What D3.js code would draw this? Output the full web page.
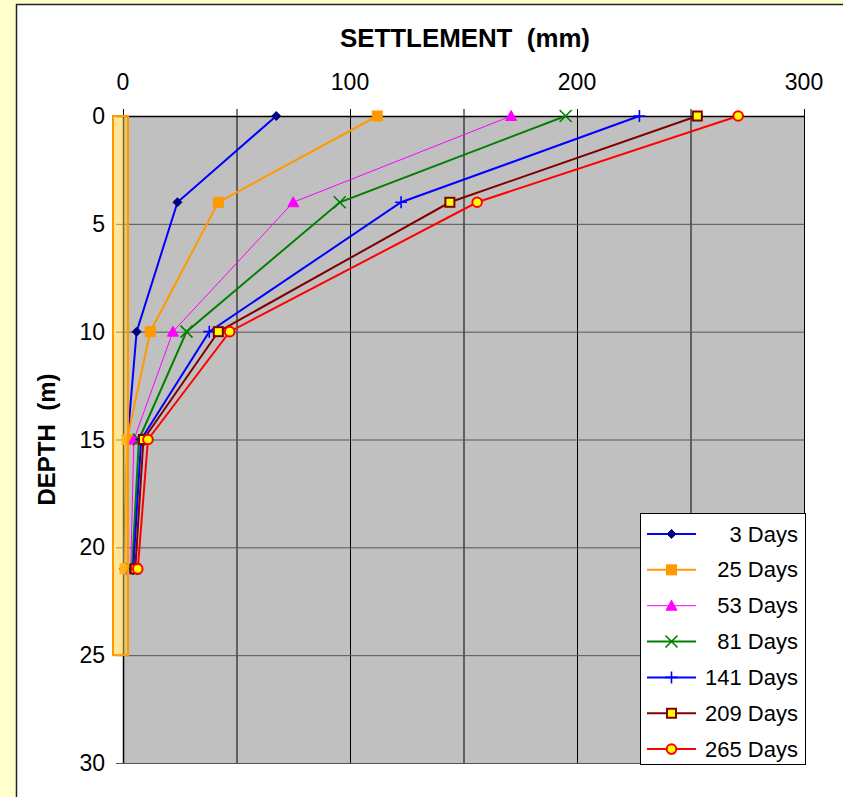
<!DOCTYPE html>
<html><head><meta charset="utf-8">
<script src="https://cdn.jsdelivr.net/npm/d3@7"></script>
<style>
html,body{margin:0;padding:0;background:#FFFFCC;}
svg{display:block;font-family:"Liberation Sans",Arial,sans-serif;}
text{white-space:pre;}
</style></head>
<body>
<svg id="c" width="843" height="797"></svg>
<script>
// ---- data ----
const depths = [0, 4, 10, 15, 21];
const days3   = [67.5, 24, 6, 2, 0.3];
const days25  = [112, 42, 12, 1.8, 0.9];
const days53  = [171, 75, 22, 4.8, 3.4];
const days81  = [195, 95.5, 28, 7, 4];
const days141 = [227.5, 122.5, 38, 8, 4.5];
const days209 = [253, 144, 42, 9, 5.4];
const days265 = [271, 156, 47, 11, 6.5];
const seriesNames = ["3 Days", "25 Days", "53 Days", "81 Days", "141 Days", "209 Days", "265 Days"];
const xTicks = [0, 50, 100, 150, 200, 250, 300];
const xTickLabels = [0, 100, 200, 300];
const yTicks = [0, 5, 10, 15, 20, 25, 30];
const pileX = [-4.4, 2.2];
const pileDepth = [0, 25];

const series = [
  {name: seriesNames[0], vals: days3,   line: "#0000FF", w: 2, marker: "diamond", fill: "#000080", stroke: "#000080"},
  {name: seriesNames[1], vals: days25,  line: "#FF9900", w: 2, marker: "square",  fill: "#FF9900", stroke: "#FF9900"},
  {name: seriesNames[2], vals: days53,  line: "#FF00FF", w: 1, marker: "triangle",fill: "#FF00FF", stroke: "#FF00FF"},
  {name: seriesNames[3], vals: days81,  line: "#008000", w: 2, marker: "x",       fill: "none",    stroke: "#008000"},
  {name: seriesNames[4], vals: days141, line: "#0000FF", w: 2, marker: "plus",    fill: "none",    stroke: "#0000FF"},
  {name: seriesNames[5], vals: days209, line: "#800000", w: 2, marker: "square2", fill: "#FFFF00", stroke: "#800000"},
  {name: seriesNames[6], vals: days265, line: "#FF0000", w: 2, marker: "circle",  fill: "#FFFF00", stroke: "#FF0000"}
];

const svg = d3.select("#c");
// outer white panel
svg.append("rect").attr("x", 16.5).attr("y", 4.5).attr("width", 840).attr("height", 800)
  .attr("fill", "#fff").attr("stroke", "#222").attr("stroke-width", 1.5);

const L = 123, R = 804, T = 116, B = 763;
const x = d3.scaleLinear().domain([0, 300]).range([L, R]);
const y = d3.scaleLinear().domain([0, 30]).range([T, B]);

// plot area
svg.append("rect").attr("x", L).attr("y", T).attr("width", R - L).attr("height", B - T).attr("fill", "#C0C0C0");

// gridlines
svg.append("g").selectAll("line").data(xTicks).join("line")
  .attr("x1", d => x(d) + 0.5).attr("x2", d => x(d) + 0.5)
  .attr("y1", T - 7).attr("y2", B)
  .attr("stroke", "#000").attr("stroke-width", 1);
svg.append("g").selectAll("line").data(yTicks).join("line")
  .attr("x1", L - 7).attr("x2", R)
  .attr("y1", d => y(d) + 0.5).attr("y2", d => y(d) + 0.5)
  .attr("stroke", d => d === 0 ? "#000" : "#555").attr("stroke-width", d => d === 0 ? 1.5 : 1);
// left axis line
svg.append("line").attr("x1", L + 0.5).attr("x2", L + 0.5).attr("y1", T).attr("y2", B)
  .attr("stroke", "#000").attr("stroke-width", 1.5);

// tick labels
svg.append("g").selectAll("text").data(xTickLabels).join("text")
  .attr("x", d => x(d)).attr("y", 90).attr("text-anchor", "middle")
  .attr("font-size", 23).attr("fill", "#000").text(d => d);
svg.append("g").selectAll("text").data(yTicks).join("text")
  .attr("x", 105).attr("y", d => y(d) + 8).attr("text-anchor", "end")
  .attr("font-size", 23).attr("fill", "#000").text(d => d);

// titles
svg.append("text").attr("x", 465).attr("y", 47).attr("text-anchor", "middle")
  .attr("font-size", 26).attr("font-weight", "bold")
  .attr("textLength", 250).attr("lengthAdjust", "spacingAndGlyphs")
  .text("SETTLEMENT  (mm)");
svg.append("text").attr("transform", `translate(55,${(T + B) / 2}) rotate(-90)`)
  .attr("text-anchor", "middle").attr("font-size", 24).attr("font-weight", "bold")
  .text("DEPTH  (m)");

// markers
function drawMarker(g, type, cx, cy, s) {
  if (type === "diamond") {
    g.append("path").attr("d", `M${cx},${cy-4.5}L${cx+4.5},${cy}L${cx},${cy+4.5}L${cx-4.5},${cy}Z`)
      .attr("fill", s.fill).attr("stroke", s.stroke);
  } else if (type === "square") {
    g.append("rect").attr("x", cx - 5).attr("y", cy - 5).attr("width", 10).attr("height", 10)
      .attr("fill", s.fill).attr("stroke", s.stroke);
  } else if (type === "triangle") {
    g.append("path").attr("d", `M${cx},${cy-5.5}L${cx+5.5},${cy+4.5}L${cx-5.5},${cy+4.5}Z`)
      .attr("fill", s.fill).attr("stroke", s.stroke);
  } else if (type === "x") {
    g.append("path").attr("d", `M${cx-6},${cy-6}L${cx+6},${cy+6}M${cx+6},${cy-6}L${cx-6},${cy+6}`)
      .attr("stroke", s.stroke).attr("stroke-width", 1.6).attr("fill", "none");
  } else if (type === "plus") {
    g.append("path").attr("d", `M${cx-6},${cy}L${cx+6},${cy}M${cx},${cy-6}L${cx},${cy+6}`)
      .attr("stroke", s.stroke).attr("stroke-width", 1.6).attr("fill", "none");
  } else if (type === "square2") {
    g.append("rect").attr("x", cx - 4.5).attr("y", cy - 4.5).attr("width", 9).attr("height", 9)
      .attr("fill", s.fill).attr("stroke", s.stroke).attr("stroke-width", 2);
  } else if (type === "circle") {
    g.append("circle").attr("cx", cx).attr("cy", cy).attr("r", 4.8)
      .attr("fill", s.fill).attr("stroke", s.stroke).attr("stroke-width", 2);
  }
}

const lineGen = d3.line().x(d => x(d[0])).y(d => y(d[1]));
series.forEach(s => {
  const g = svg.append("g");
  const pts = s.vals.map((v, i) => [v, depths[i]]);
  g.append("path").attr("d", lineGen(pts)).attr("fill", "none")
    .attr("stroke", s.line).attr("stroke-width", s.w);
  pts.forEach(p => drawMarker(g, s.marker, x(p[0]), y(p[1]), s));
});

// pile
svg.append("rect").attr("x", x(pileX[0])).attr("y", y(pileDepth[0]))
  .attr("width", x(pileX[1]) - x(pileX[0])).attr("height", y(pileDepth[1]) - y(pileDepth[0]))
  .attr("fill", "rgba(255,205,50,0.5)").attr("stroke", "#FF9900").attr("stroke-width", 2);

// legend
const lg = svg.append("g");
lg.append("rect").attr("x", 640.5).attr("y", 513.5).attr("width", 165).attr("height", 251)
  .attr("fill", "#fff").attr("stroke", "#000").attr("stroke-width", 1);
series.forEach((s, i) => {
  const cy = 534 + i * 35.85;
  lg.append("line").attr("x1", 647).attr("x2", 696).attr("y1", cy).attr("y2", cy)
    .attr("stroke", s.line).attr("stroke-width", s.w);
  drawMarker(lg, s.marker, 671.5, cy, s);
  lg.append("text").attr("x", 798).attr("y", cy + 7.5).attr("text-anchor", "end")
    .attr("font-size", 22).attr("fill", "#000").text(s.name);
});
</script>
</body></html>
